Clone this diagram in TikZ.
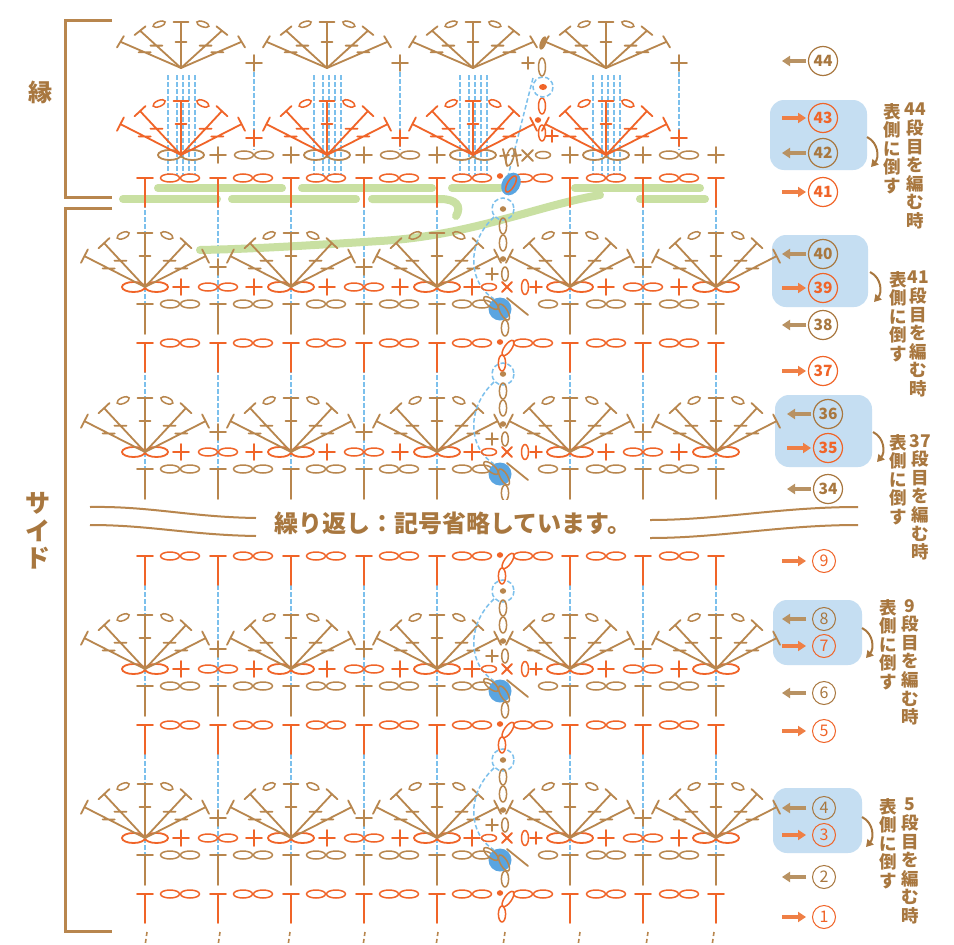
\documentclass[tikz,border=0pt]{standalone}
\usepackage{fontspec}
\setmainfont{Noto Sans CJK JP}
\usetikzlibrary{calc,arrows.meta}
\definecolor{br}{HTML}{B8864E}
\definecolor{orr}{HTML}{F06428}
\definecolor{bl}{HTML}{7CC0EC}
\definecolor{bx}{HTML}{C5DEF2}
\definecolor{gr}{HTML}{C9E0A2}
\definecolor{bd}{HTML}{5AA5E1}
\definecolor{tbr}{HTML}{A8773F}
\definecolor{aor}{HTML}{EF7F45}
\definecolor{abr}{HTML}{B89263}
\tikzset{
  st/.style={line width=1.8pt,line cap=round},
  ov/.style={line width=1.5pt},
  bdash/.style={draw=bl,line width=1.5pt,dash pattern=on 4.5pt off 2.5pt},
  grn/.style={draw=gr,line width=8pt,line cap=round},
  lab/.style={text=tbr,inner sep=0pt,align=center},
}
\newcommand\ccT[4]{\draw[st,#4] (#1-8,#2) -- (#1+8,#2) (#1,#2) -- (#1,#2+#3);}
\newcommand\ccO[3]{\draw[ov,#3] (#1,#2) ellipse (9.5 and 4);}
\newcommand\ccOO[3]{\ccO{#1-10}{#2}{#3}\ccO{#1+10}{#2}{#3}}
\newcommand\ccV[3]{\draw[ov,#3] (#1,#2) ellipse (3.6 and 8);}
\newcommand\ccBig[3]{\draw[#3,line width=1.8pt] (#1-11.5,#2) ellipse (11.5 and 5) (#1+11.5,#2) ellipse (11.5 and 5);}
\newcommand\ccP[3]{\draw[st,#3] (#1-8,#2) -- (#1+8,#2) (#1,#2-8) -- (#1,#2+8);}
\newcommand\ccp[3]{\draw[st,#3] (#1-6,#2) -- (#1+6,#2) (#1,#2-6) -- (#1,#2+6);}
\newcommand\ccDot[3]{\fill[#3] (#1,#2) ellipse (3.2 and 2.8);}
\newcommand\ccFan[4]{%
 \begin{scope}[shift={(#1,#2)},yscale=#4]
  \draw[st,#3] (0,0) -- (0,-54) (-7.5,-54) -- (7.5,-54) (-5.5,-31) -- (5.5,-31);
  \foreach \a/\l in {153/68,133/60,47/60,27/68}{
    \draw[st,#3] (0,0) -- (-\a:\l)
      ($(-\a:\l)+(-\a-90:7.5)$) -- ($(-\a:\l)+(-\a+90:7.5)$)
      ($(-\a:0.6*\l)+(-6,0)$) -- ($(-\a:0.6*\l)+(6,0)$);}
  \foreach \a in {113,67}{
    \draw[ov,#3,rotate around={\a-90:(-\a:56)}] (-\a:56) ellipse (6.5 and 3);}
 \end{scope}}
\newcommand\ccBlue[1]{\foreach \c in {145,218,291,364,437,570,643,716}{\draw[bdash] (\c,#1-140) -- (\c,#1-40);}}
\newcommand\ccRowOne[1]{%
 \foreach \c in {145,218,291,364,437}{\ccT{\c}{#1}{29}{orr}\ccOO{\c+35}{#1}{orr}}
 \foreach \c in {570,643,716}{\ccT{\c}{#1}{29}{orr}\ccOO{\c-37}{#1}{orr}}}
\newcommand\ccRowTwo[1]{%
 \foreach \c in {145,218,291,364,437}{\ccT{\c}{#1-39}{30}{br}\ccOO{\c+35}{#1-39}{br}}
 \foreach \c in {643,716}{\ccT{\c}{#1-39}{30}{br}\ccOO{\c-37}{#1-39}{br}}
 \ccT{570}{#1-39}{30}{br}}
\newcommand\ccRowThree[1]{%
 \foreach \c in {145,291,437,570,716}{\ccBig{\c}{#1-56}{orr}}
 \foreach \c in {218,364,643}{\ccOO{\c}{#1-56}{orr}}
 \foreach \c in {181,254,327,400,606,679}{\ccP{\c}{#1-56}{orr}}
 \foreach \c in {145,291,437,570,716}{\ccFan{\c}{#1-56}{br}{1}}
 \foreach \c in {218,364,643}{\ccP{\c}{#1-76}{br}}}
\newcommand\ccTurnA[1]{%
 \ccDot{500}{#1-1}{orr}
 \draw[ov,orr,rotate around={55:(508,#1+5)}] (508,#1+5) ellipse (9 and 3.6);
 \ccV{502}{#1+20}{orr}}
\newcommand\ccTurnB[1]{%
 \draw[bdash] (503,#1-134) circle (11);
 \ccDot{503}{#1-134}{br}
 \ccV{503}{#1-117}{br}\ccV{503}{#1-100}{br}
 \ccDot{503}{#1-84}{br}
 \ccp{492}{#1-69}{br}
 \draw[ov,br] (505,#1-69) ellipse (3.3 and 7);
 \draw[bdash] (494,#1-126) .. controls (466,#1-100) and (468,#1-60) .. (494,#1-44);
 \fill[bd] (500,#1-34) circle (11.5);
 \draw[ov,br,rotate around={-40:(491,#1-40)}] (491,#1-40) ellipse (9 and 3.6);
 \draw[ov,br,rotate around={-60:(504,#1-31)}] (504,#1-31) ellipse (9 and 3.6);
 \draw[st,br] (507,#1-45) -- (528,#1-28);
 \ccO{548}{#1-39}{br}
 \ccV{505}{#1-15}{br}
 \ccP{472}{#1-56}{orr}
 \draw[ov,orr] (489,#1-56) ellipse (7.5 and 3.5);
 \draw[st,orr] (502,#1-61) -- (512,#1-51) (502,#1-51) -- (512,#1-61);
 \draw[ov,orr] (525,#1-56) ellipse (3.5 and 7.5);
 \ccp{536}{#1-56}{orr}}
\newcommand\ccLab[4]{%
 \ifx L#4\draw[abr,line width=3.4pt,-{Triangle[length=8pt,width=10pt]}] (806,#1) -- (782,#1);
 \else\draw[aor,line width=3.4pt,-{Triangle[length=8pt,width=10pt]}] (782,#1) -- (806,#1);\fi
 \node[circle,draw=#3,line width=1.2pt,minimum size=29pt,inner sep=0pt,text=#3,font=\bfseries\fontsize{15.5}{15.5}\selectfont] at (823,#1) {#2};}
\newcommand\ccLabS[4]{%
 \ifx L#4\draw[abr,line width=3.4pt,-{Triangle[length=8pt,width=10pt]}] (806,#1) -- (782,#1);
 \else\draw[aor,line width=3.4pt,-{Triangle[length=8pt,width=10pt]}] (782,#1) -- (806,#1);\fi
 \node[circle,draw=#3,line width=1pt,minimum size=23pt,inner sep=0pt,text=#3,font=\fontsize{16}{16}\selectfont] at (824,#1) {#2};}
\newcommand\ccVT[4]{%
 \node[lab,anchor=north,font=\bfseries\fontsize{17.5}{18.6}\selectfont] at (#1,#3) {表\\側\\に\\倒\\す};
 \node[lab,anchor=north,font=\bfseries\fontsize{17.5}{18.6}\selectfont] at (#2,#3) {#4\\段\\目\\を\\編\\む\\時};}
\newcommand\ccCurv[2]{\draw[tbr,line width=2pt,-{Triangle[length=7pt,width=8pt]}] (#1,#2) .. controls (#1+12,#2+6) and (#1+12,#2+21) .. (#1+4,#2+30);}
\begin{document}
\begin{tikzpicture}[x=1pt,y=-1pt]
\fill[white] (0,0) rectangle (954,945);
\useasboundingbox (0,0) rectangle (954,945);
% ---------- blue boxes on right
\fill[bx,rounded corners=14pt] (770,100) rectangle (867,170);
\fill[bx,rounded corners=14pt] (772,235) rectangle (868,307);
\fill[bx,rounded corners=14pt] (775,395) rectangle (872,467);
\fill[bx,rounded corners=14pt] (773,600) rectangle (862,665);
\fill[bx,rounded corners=14pt] (773,788) rectangle (862,853);
% ---------- brackets
\draw[br,line width=3pt] (112,20) -- (65,20) -- (65,197) -- (112,197);
\draw[br,line width=3pt] (112,208) -- (65,208) -- (65,931) -- (112,931);
\node[lab,font=\bfseries\fontsize{24}{24}\selectfont] (en) at (40,92) {縁};
\node[lab,font=\bfseries\fontsize{25}{27.5}\selectfont] (side) at (38,531) {サ\\イ\\ド};
% ---------- blue guide lines
\ccBlue{894}\ccBlue{725}\ccBlue{508}\ccBlue{343}
\foreach \c in {181,327,473,606}{\foreach \o in {-13,-4,2,8,14}{\draw[bdash,line width=1.2pt] (\c+\o,75) -- (\c+\o,175);}}
\foreach \c in {254,400,679}{\draw[bdash] (\c,72) -- (\c,150);}
\draw[bdash] (533,78) -- (508,176);
% ---------- green lines
\draw[grn] (158,188) -- (282,188) (302,188) -- (432,188) (452,188) -- (500,188) (575,188) -- (700,188);
\draw[grn] (123,199) -- (217,199) (232,199) -- (356,199) (640,199) -- (705,199);
\draw[grn] (372,199) -- (440,199) .. controls (456,199) and (462,206) .. (456,216);
\draw[grn] (600,195) .. controls (540,205) and (470,236) .. (380,241) .. controls (300,246) and (250,249) .. (200,250);
% ---------- side blocks
\ccRowOne{894}\ccRowTwo{894}\ccRowThree{894}\ccTurnA{894}\ccTurnB{894}
\ccRowOne{725}\ccRowTwo{725}\ccRowThree{725}\ccTurnA{725}\ccTurnB{725}
\ccRowOne{556}\ccTurnA{556}
\ccRowTwo{508}\ccRowThree{508}\ccTurnB{508}
\ccRowOne{343}\ccRowTwo{343}\ccRowThree{343}\ccTurnA{343}\ccTurnB{343}
\ccRowOne{178}
% bottom continuation
\foreach \c in {147,220,290,365,438,505,580,648,714}{\draw[br,line width=1.6pt,dash pattern=on 4pt off 3pt] (\c,932) -- (\c-2,946);}
% ---------- edge rows
\foreach \c in {181,327,473,606}{\ccBig{\c}{155}{br}}
\foreach \c in {254,400,679}{\ccOO{\c}{155}{br}}
\foreach \c in {218,291,364,437,570,643,716}{\ccP{\c}{155}{br}}
\foreach \c in {181,327,473,606}{\ccFan{\c}{155}{orr}{1}}
\foreach \c in {254,400,679}{\ccP{\c}{138}{orr}}
\foreach \c in {181,327,473,606}{\ccFan{\c}{68}{br}{0.85}}
\foreach \c in {254,400,679}{\ccP{\c}{63}{br}}
% edge turning
\ccDot{500}{176}{orr}
\fill[bd,rotate around={60:(511,184)}] (511,184) ellipse (12 and 9);
\draw[ov,orr,rotate around={60:(511,184)}] (511,184) ellipse (9 and 3.6);
\draw[ov,br,rotate around={75:(510,157)}] (510,157) ellipse (9 and 3.5);
\draw[st,br] (503,149) -- (507,166) (500,156) -- (509,155) (515,149) -- (518,166) (512,156) -- (521,155);
\draw[st,br] (522,150) -- (533,161) (522,161) -- (533,150);
\draw[ov,br] (543,155) ellipse (7.5 and 3.5);
\draw[ov,orr] (542,133) ellipse (3.5 and 8);
\ccp{552}{136}{orr}
\ccDot{538}{120}{orr}
\draw[ov,orr] (542,106) ellipse (3.5 and 8);
\draw[bdash] (543,87) circle (10);
\fill[orr] (543,87) ellipse (4 and 3);
\draw[ov,br] (542,67) ellipse (3.5 and 9);
\ccp{528}{63}{br}
\fill[br,rotate around={70:(543,43)}] (543,43) ellipse (7 and 3);
% ---------- break
\fill[white] (85,500) rectangle (870,547);
\draw[br,line width=2pt] (90,507) .. controls (150,506) and (190,517) .. (256,518);
\draw[br,line width=2pt] (90,525) .. controls (150,525) and (190,535) .. (256,536);
\draw[br,line width=2pt] (650,520) .. controls (720,520) and (780,507) .. (858,507);
\draw[br,line width=2pt] (650,538) .. controls (720,538) and (780,525) .. (858,525);
\node[lab,font=\bfseries\fontsize{24}{24}\selectfont] (brk) at (453,523) {繰り返し：記号省略しています。};
% ---------- labels
\ccLab{61}{44}{tbr}{L}
\ccLab{118}{43}{orr}{R}
\ccLab{153}{42}{tbr}{L}
\ccLab{192}{41}{orr}{R}
\ccLab{254}{40}{tbr}{L}
\ccLab{288}{39}{orr}{R}
\ccLab{325}{38}{tbr}{L}
\ccLab{371}{37}{orr}{R}
\begin{scope}[xshift=5pt]
\ccLab{414}{36}{tbr}{L}
\ccLab{448}{35}{orr}{R}
\ccLab{489}{34}{tbr}{L}
\end{scope}
\ccLabS{561}{9}{orr}{R}
\ccLabS{619}{8}{tbr}{L}
\ccLabS{646}{7}{orr}{R}
\ccLabS{693}{6}{tbr}{L}
\ccLabS{731}{5}{orr}{R}
\ccLabS{808}{4}{tbr}{L}
\ccLabS{835}{3}{orr}{R}
\ccLabS{877}{2}{tbr}{L}
\ccLabS{917}{1}{orr}{R}
\ccVT{892}{915}{103}{44}
\ccVT{898}{918}{271}{41}
\ccVT{898}{920}{434}{37}
\ccVT{888}{910}{599}{9}
\ccVT{888}{910}{798}{5}
\ccCurv{867}{137}
\ccCurv{870}{272}
\ccCurv{873}{432}
\ccCurv{862}{628}
\ccCurv{862}{817}
\end{tikzpicture}
\end{document}
